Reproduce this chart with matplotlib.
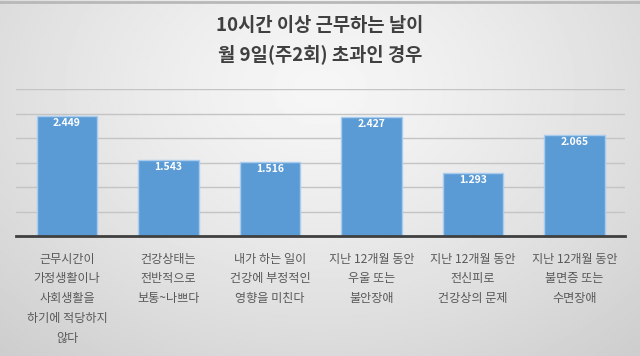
import matplotlib
import numpy as np

matplotlib.use("Agg")
import matplotlib.pyplot as plt

plt.rcParams["font.family"] = ["Noto Sans CJK KR", "DejaVu Sans"]

title = "10시간 이상 근무하는 날이\n월 9일(주2회) 초과인 경우"
categories = [
    "근무시간이\n가정생활이나\n사회생활을\n하기에 적당하지\n않다",
    "건강상태는\n전반적으로\n보통~나쁘다",
    "내가 하는 일이\n건강에 부정적인\n영향을 미친다",
    "지난 12개월 동안\n우울 또는\n불안장애",
    "지난 12개월 동안\n전신피로\n건강상의 문제",
    "지난 12개월 동안\n불면증 또는\n수면장애",
]
values = [2.449, 1.543, 1.516, 2.427, 1.293, 2.065]
grid_ticks = [0.5, 1.0, 1.5, 2.0, 2.5, 3.0]

fig = plt.figure(figsize=(6.4, 3.56), dpi=100)

# soft gray gradient behind everything
bg = fig.add_axes([0, 0, 1, 1], zorder=-10)
yy, xx = np.mgrid[0:1:200j, 0:1:360j]
r = np.sqrt(((xx - 0.5) / 0.75) ** 2 + ((yy - 0.25) / 1.0) ** 2)
shade = 0.965 - 0.16 * np.clip(r, 0, 1) ** 1.3
bg.imshow(shade, cmap="gray", vmin=0, vmax=1, aspect="auto", extent=[0, 1, 1, 0])
bg.set_xlim(0, 1)
bg.set_ylim(1, 0)
bg.axis("off")
bg.plot([0, 1], [0.006, 0.006], color="#b8b8b8", linewidth=2)

ax = fig.add_axes([0.0254, 0.337, 0.9516, 0.413])
ax.patch.set_alpha(0)
x = np.arange(len(values))
bars = ax.bar(x, values, width=0.6, color="#5b9bd5", edgecolor="#a9cbee", linewidth=1.0, zorder=3)
for xi, v in zip(x, values):
    ax.text(xi, v - 0.14, f"{v:.3f}", ha="center", va="center", color="white",
            fontsize=7.5, fontweight="bold", zorder=4)

ax.set_xlim(-0.5, len(values) - 0.5)
ax.set_ylim(0, 3.0)
ax.set_yticks(grid_ticks)
ax.yaxis.grid(True, color="#c4c4c4", linewidth=1.0, zorder=0)
ax.tick_params(axis="y", left=False, labelleft=False)
ax.set_xticks(x)
ax.set_xticklabels(categories, fontsize=8.7, color="#595959", linespacing=1.68)
ax.tick_params(axis="x", length=0, pad=12)
for side in ["left", "right", "top"]:
    ax.spines[side].set_visible(False)
ax.spines["bottom"].set_color("#3f3f3f")
ax.spines["bottom"].set_linewidth(2.0)
ax.spines["bottom"].set_zorder(5)

fig.text(0.5, 0.887, title, ha="center", va="center", fontsize=13.5, fontweight="bold",
         color="#404040", linespacing=1.6)

fig.savefig("out.png", dpi=100)
plt.close(fig)
